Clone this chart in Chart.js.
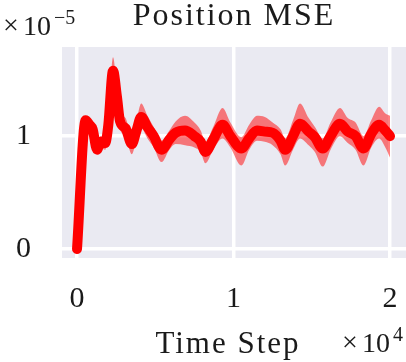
<!DOCTYPE html>
<html>
<head>
<meta charset="utf-8">
<script src="https://cdn.jsdelivr.net/npm/chart.js@4/dist/chart.umd.min.js"></script>
<style>
  html, body { margin: 0; padding: 0; background: #fff; }
  #wrap { width: 406px; height: 362px; }
</style>
</head>
<body>
<div id="wrap"><canvas id="chart"></canvas></div>
<script>
// values are in units of 1e-5, steps in raw time steps
const steps = [0, 550, 800, 1000, 1280, 1500, 1800, 2000, 2300, 2550, 2750, 3100, 3500, 3800, 4100, 4500, 4900, 5400, 5900, 6300, 6900, 7500, 7900, 8200, 8700, 9300, 9800, 10500, 11000, 11500, 12000, 12500, 13000, 13300, 13800, 14250, 14800, 15200, 15700, 16200, 16800, 17300, 17800, 18300, 18800, 19300, 19700, 20000];
const meanMse = [0.00, 1.14, 1.10, 1.06, 0.88, 0.95, 0.94, 1.10, 1.58, 1.35, 1.13, 1.07, 0.93, 1.05, 1.17, 1.08, 1.00, 0.88, 0.97, 1.03, 1.05, 1.00, 0.95, 0.86, 0.97, 1.10, 1.00, 0.89, 0.98, 1.05, 1.04, 1.03, 0.96, 0.88, 1.00, 1.11, 1.04, 0.99, 0.89, 1.00, 1.11, 1.04, 1.00, 0.89, 1.02, 1.10, 1.05, 1.00];
const lowerMse = [0.00, 1.10, 1.05, 1.00, 0.84, 0.90, 0.88, 1.02, 1.48, 1.25, 1.06, 1.00, 0.84, 0.97, 1.07, 0.98, 0.90, 0.77, 0.88, 0.93, 0.92, 0.90, 0.86, 0.76, 0.88, 0.98, 0.90, 0.74, 0.88, 0.96, 0.95, 0.92, 0.84, 0.74, 0.88, 0.98, 0.92, 0.86, 0.73, 0.88, 1.00, 0.94, 0.88, 0.74, 0.90, 0.98, 0.90, 0.81];
const upperMse = [0.00, 1.18, 1.15, 1.10, 0.93, 1.00, 1.00, 1.18, 1.70, 1.43, 1.22, 1.16, 1.00, 1.14, 1.29, 1.18, 1.08, 0.96, 1.05, 1.13, 1.18, 1.12, 1.05, 0.95, 1.08, 1.25, 1.12, 0.99, 1.10, 1.18, 1.17, 1.12, 1.06, 0.98, 1.14, 1.29, 1.16, 1.08, 0.98, 1.12, 1.25, 1.16, 1.12, 1.00, 1.14, 1.26, 1.20, 1.18];
const xTicks = [0, 10000, 20000];
const yTicks = [0, 1];

const FONT = '"Liberation Serif", "DejaVu Serif", serif';
const TEXT = '#1a1a1a';

function toPoints(values) {
  return steps.map((s, i) => ({ x: s, y: values[i] }));
}

// draws "×10" followed by a raised exponent, parts placed from the left edge
function drawPower(ctx, exp, left, baseline) {
  ctx.save();
  ctx.fillStyle = TEXT;
  ctx.textAlign = 'left';
  ctx.textBaseline = 'alphabetic';
  ctx.font = `28px ${FONT}`;
  ctx.fillText('×', left, baseline - 1);
  ctx.fillText('10', left + 20, baseline);
  ctx.font = `20px ${FONT}`;
  ctx.fillText(exp, left + 51, baseline - 11);
  ctx.restore();
}

const decorations = {
  id: 'decorations',
  beforeDraw(chart) {
    const { ctx, chartArea } = chart;
    ctx.save();
    ctx.fillStyle = '#EAEAF2';
    ctx.fillRect(chartArea.left, chartArea.top, chartArea.right - chartArea.left, chartArea.bottom - chartArea.top);
    ctx.restore();
  },
  afterDraw(chart) {
    const { ctx, chartArea } = chart;
    const mid = (chartArea.left + chartArea.right) / 2;
    ctx.save();
    ctx.fillStyle = TEXT;
    ctx.textAlign = 'center';
    ctx.textBaseline = 'alphabetic';
    ctx.font = `32px ${FONT}`;
    ctx.letterSpacing = '2px';
    ctx.fillText('Position MSE', mid, 25);
    ctx.font = `31px ${FONT}`;
    ctx.letterSpacing = '2px';
    ctx.fillText('Time Step', mid - 6, 353);
    ctx.restore();
    drawPower(ctx, '−5', 3, 35);
    drawPower(ctx, '4', 342, 352);
  }
};

new Chart(document.getElementById('chart'), {
  type: 'line',
  data: {
    datasets: [
      {
        label: 'upper',
        data: toPoints(upperMse),
        borderWidth: 0,
        pointRadius: 0,
        backgroundColor: 'rgba(255, 0, 0, 0.5)',
        fill: '+1',
        tension: 0.4,
        cubicInterpolationMode: 'monotone',
        order: 2,
      },
      {
        label: 'lower',
        data: toPoints(lowerMse),
        borderWidth: 0,
        pointRadius: 0,
        fill: false,
        tension: 0.4,
        cubicInterpolationMode: 'monotone',
        order: 3,
      },
      {
        label: 'mean',
        data: toPoints(meanMse),
        borderColor: '#ff0000',
        borderWidth: 10,
        borderCapStyle: 'round',
        borderJoinStyle: 'round',
        pointRadius: 0,
        fill: false,
        tension: 0.4,
        cubicInterpolationMode: 'monotone',
        order: 1,
      },
    ],
  },
  options: {
    responsive: true,
    maintainAspectRatio: false,
    animation: false,
    layout: {
      padding: { top: 47, right: 0, left: 0, bottom: 0 },
    },
    plugins: {
      legend: { display: false },
      tooltip: { enabled: false },
    },
    scales: {
      x: {
        type: 'linear',
        min: -960,
        max: 21020,
        afterFit(scale) {
          scale.height = 104;
          scale.paddingLeft = 0;
          scale.paddingRight = 0;
        },
        afterBuildTicks(scale) { scale.ticks = xTicks.map(v => ({ value: v })); },
        grid: { color: '#ffffff', lineWidth: 3.5, drawTicks: false },
        border: { display: false },
        ticks: {
          padding: 23,
          color: TEXT,
          font: { family: FONT, size: 30 },
          callback: v => String(v / 10000),
        },
      },
      y: {
        min: -0.08,
        max: 1.79,
        afterFit(scale) {
          scale.width = 62;
          scale.paddingTop = 0;
          scale.paddingBottom = 0;
        },
        afterBuildTicks(scale) { scale.ticks = yTicks.map(v => ({ value: v })); },
        grid: { color: '#ffffff', lineWidth: 3.5, drawTicks: false },
        border: { display: false },
        ticks: {
          padding: 31,
          color: TEXT,
          font: { family: FONT, size: 30 },
          callback: v => String(v),
        },
      },
    },
  },
  plugins: [decorations],
});
</script>
</body>
</html>
